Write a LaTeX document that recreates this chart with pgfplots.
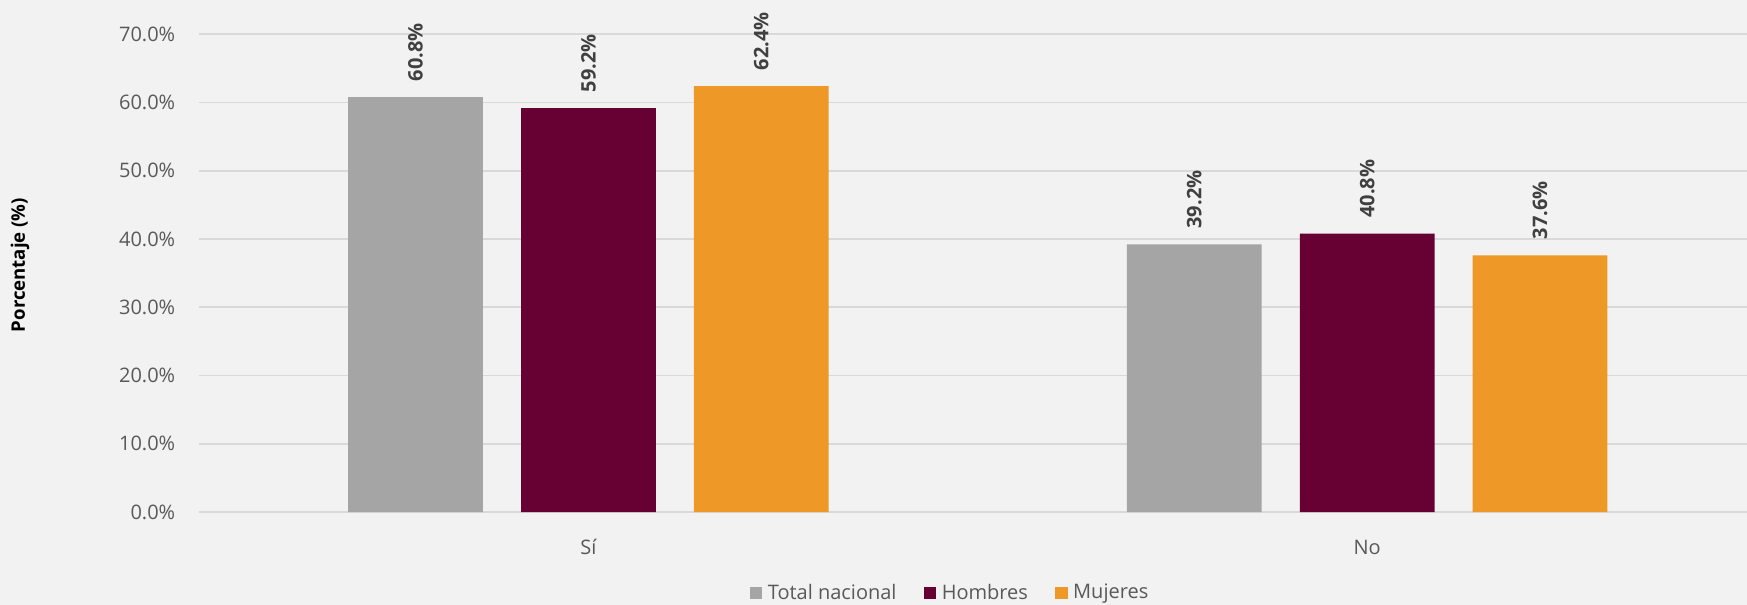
\documentclass[border=0pt]{standalone}
\usepackage{pgfplots}
\usepackage{pgfplotstable}
\pgfplotsset{compat=1.18}
\usepackage{fontspec}
\setmainfont{Open Sans}
\definecolor{bg}{HTML}{F2F2F2}
\definecolor{gridc}{HTML}{D9D9D9}
\definecolor{cgray}{HTML}{A5A5A5}
\definecolor{cmaroon}{HTML}{670033}
\definecolor{corange}{HTML}{EE9828}
\definecolor{ticktext}{HTML}{595959}
\definecolor{labtext}{HTML}{404040}

\pgfplotstableread{
x total hombres mujeres
0 60.8 59.2 62.4
1 39.2 40.8 37.6
}\datatable

\begin{document}
\begin{tikzpicture}
\fill[bg] (-99.5pt,-46.5pt) rectangle (774pt,256pt);
\begin{axis}[
  at={(0,0)}, anchor=south west,
  scale only axis, width=778.8pt, height=238.85pt,
  xmin=-0.5, xmax=1.5, ymin=0, ymax=70,
  axis line style={draw=none},
  major tick length=0pt,
  ymajorgrids, grid style={gridc, line width=0.9pt},
  ytick={0,10,...,70},
  yticklabel={\pgfmathprintnumber[fixed,fixed zerofill,precision=1]{\tick}\%},
  /pgf/number format/assume math mode=true,
  yticklabel style={font=\fontsize{10}{12}\selectfont, text=ticktext, anchor=east, inner sep=0pt, xshift=-11.7pt},
  xtick={0,1}, xticklabels={Sí,No},
  xticklabel style={font=\fontsize{10}{12}\selectfont, text=ticktext, anchor=center, inner sep=0pt, yshift=-17.5pt},
  ylabel={Porcentaje (\%)},
  every axis y label/.style={at={(axis description cs:0,0.517)}, xshift=-89.5pt, rotate=90, anchor=center, font=\bfseries\fontsize{9.3}{11}\selectfont, text=black},
  ybar, bar width=0.173,
  nodes near coords={\pgfmathprintnumber[fixed,fixed zerofill,precision=1]{\pgfplotspointmeta}\%},
  nodes near coords style={rotate=90, anchor=west, inner ysep=0pt, inner xsep=7.8pt, font=\bfseries\fontsize{10}{12}\selectfont, text=labtext},
  legend style={at={(axis description cs:0.4815,0)}, anchor=center, yshift=-40.5pt,
    draw=none, fill=none, legend columns=-1,
    font=\fontsize{10}{12}\selectfont, text=ticktext,
    nodes={inner sep=0pt},
    /tikz/every odd column/.append style={column sep=2.8pt},
    /tikz/every even column/.append style={column sep=13.5pt}},
  legend image code/.code={\fill[#1] (0pt,-3.15pt) rectangle (6.3pt,3.15pt);},
]
\addplot[fill=cgray, draw=none, bar shift=-0.222] table[x=x, y=total] {\datatable};
\addplot[fill=cmaroon, draw=none, bar shift=0] table[x=x, y=hombres] {\datatable};
\addplot[fill=corange, draw=none, bar shift=0.222] table[x=x, y=mujeres] {\datatable};
\legend{Total nacional, Hombres, Mujeres}
\end{axis}
\pgfresetboundingbox
\path (-99.5pt,-46.5pt) rectangle (774pt,256pt);
\end{tikzpicture}
\end{document}
